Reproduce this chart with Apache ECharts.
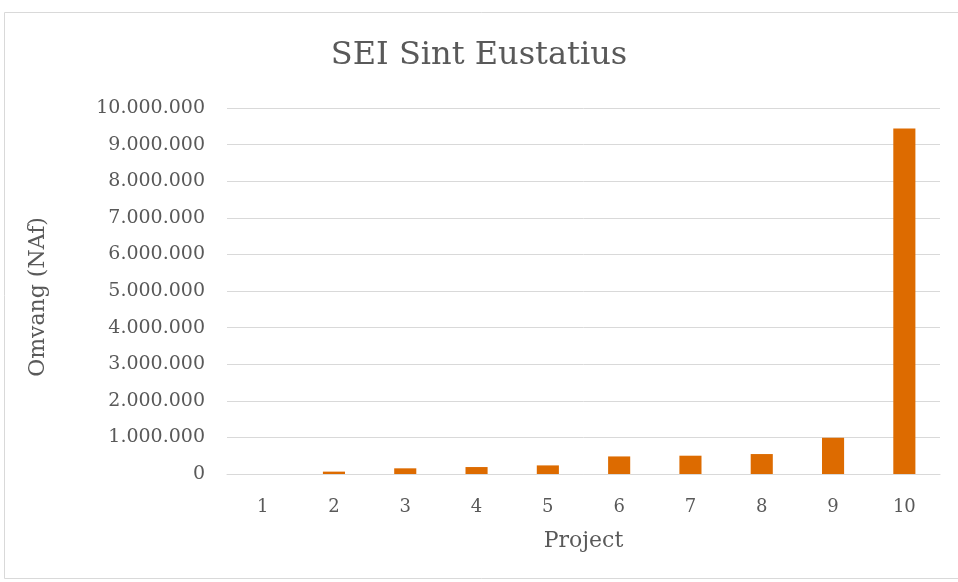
<!DOCTYPE html>
<html><head><meta charset="utf-8">
<script src="https://cdn.jsdelivr.net/npm/echarts@6/dist/echarts.min.js"></script>
<style>html,body{margin:0;padding:0;background:#fff}#c{width:958px;height:582px}</style>
</head><body><div id="c"></div>
<script>
const categories = ['1','2','3','4','5','6','7','8','9','10'];
const values = [0, 65000, 155000, 190000, 235000, 480000, 500000, 545000, 990000, 9440000];
const titleText = 'SEI Sint Eustatius';
const yName = 'Omvang (NAf)';
const xName = 'Project';

const font = 'Georgia, "DejaVu Serif", "Liberation Serif", serif';
const chart = echarts.init(document.getElementById('c'), null, {renderer:'canvas'});
function fmt(v){return String(v).replace(/\B(?=(\d{3})+(?!\d))/g,'.');}
chart.setOption({
  animation:false,
  backgroundColor:'#fff',
  graphic:[{type:'rect',shape:{x:4.5,y:12.5,width:960,height:566},style:{fill:'none',stroke:'#d9d9d9',lineWidth:1}}],
  title:{text:titleText,left:'center',top:35,textStyle:{fontFamily:font,fontWeight:'normal',fontSize:32,color:'#595959'}},
  grid:{left:227,right:18,top:108,bottom:108},
  xAxis:{type:'category',data:categories,name:xName,nameLocation:'middle',nameGap:56,
    nameTextStyle:{fontFamily:font,fontSize:22,color:'#595959'},
    axisLine:{lineStyle:{color:'#d9d9d9'}},axisTick:{show:false},
    axisLabel:{fontFamily:font,fontSize:18,color:'#595959',margin:24}},
  yAxis:{type:'value',min:0,max:10000000,interval:1000000,name:yName,nameLocation:'middle',nameGap:178,
    nameTextStyle:{fontFamily:font,fontSize:22,color:'#595959',padding:[0,0,0,-12]},
    axisLine:{show:false},axisTick:{show:false},
    splitLine:{lineStyle:{color:'#d9d9d9',width:1}},
    axisLabel:{fontFamily:font,fontSize:19,color:'#595959',margin:22,formatter:fmt}},
  series:[{type:'bar',data:values,barWidth:'31%',itemStyle:{color:'#DD6B00'}}]
});
</script></body></html>
